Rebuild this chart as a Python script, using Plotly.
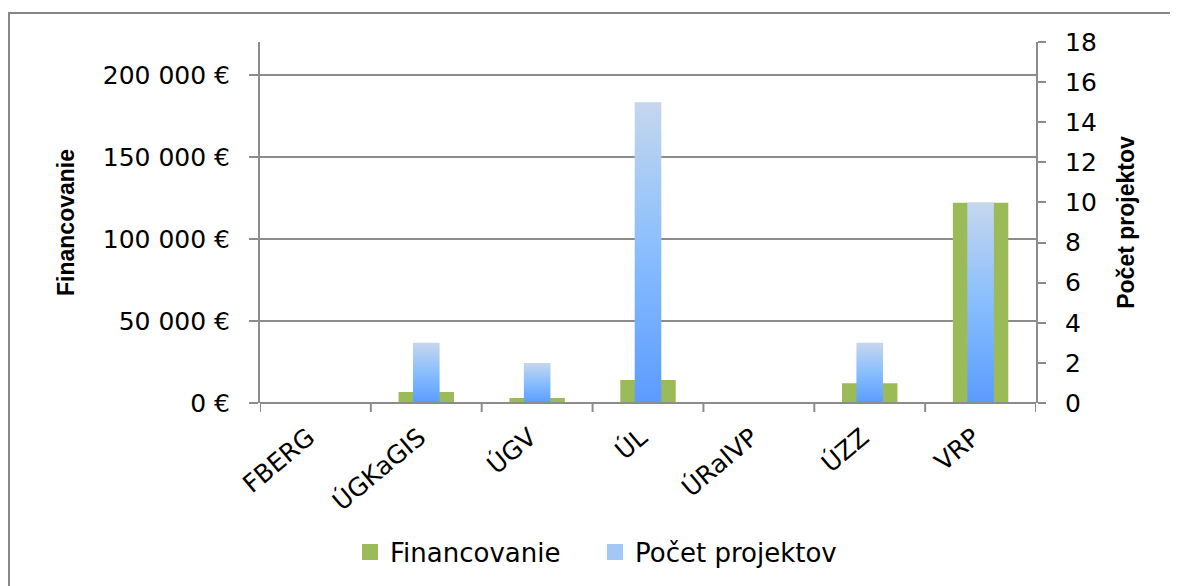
import plotly.graph_objects as go

categories = ["FBERG", "ÚGKaGIS", "ÚGV", "ÚL", "ÚRaIVP", "ÚZZ", "VRP"]
financovanie = [0, 6700, 3000, 14000, 0, 12000, 122000]
pocet_projektov = [0, 3, 2, 15, 0, 3, 10]

GREEN = "#9BBB59"
BLUE_DARK = "#5B9BFF"
BLUE_MID = "#88BEFD"
BLUE_LIGHT = "#C6D6EE"
GRID = "#8C8C8C"
FONT = "DejaVu Sans"
TITLE_FONT = "Liberation Sans"

idx = list(range(len(categories)))
green_w = 0.5
blue_w = 0.24

fig = go.Figure()

fig.add_trace(go.Bar(
    x=idx, y=financovanie, width=green_w, name="Financovanie",
    marker=dict(color=GREEN, line=dict(width=0)), yaxis="y", showlegend=False,
))

# Gradient-filled bars for "Počet projektov" (per-bar vertical gradient)
for i, v in zip(idx, pocet_projektov):
    if v <= 0:
        continue
    xs = [i - blue_w / 2, i + blue_w / 2, i + blue_w / 2, i - blue_w / 2, i - blue_w / 2]
    ys = [0, 0, v, v, 0]
    fig.add_trace(go.Scatter(
        x=xs, y=ys, yaxis="y2", mode="lines", fill="toself",
        line=dict(width=0, color=BLUE_DARK),
        fillgradient=dict(type="vertical",
                          colorscale=[[0, BLUE_DARK], [0.5, BLUE_MID], [1, BLUE_LIGHT]]),
        showlegend=False, hoverinfo="skip",
    ))

# Legend entries (square swatches)
fig.add_trace(go.Scatter(
    x=[None], y=[None], mode="markers", name="Financovanie",
    marker=dict(symbol="square", size=18, color=GREEN), yaxis="y",
))
fig.add_trace(go.Scatter(
    x=[None], y=[None], mode="markers", name="Počet projektov",
    marker=dict(symbol="square", size=18, color="#A3C8F5"), yaxis="y2",
))

fig.update_layout(
    width=1178, height=586,
    margin=dict(l=252, r=150, t=34, b=191),
    paper_bgcolor="white", plot_bgcolor="white",
    barmode="overlay",
    font=dict(family=FONT, size=24, color="black"),
    xaxis=dict(
        tickmode="array", tickvals=idx, ticktext=categories,
        range=[-0.5, len(categories) - 0.5],
        tickangle=-40, showgrid=False, zeroline=False,
        showline=False, ticks="", tickfont=dict(size=25),
        ticklabelstandoff=14, ticklabelshift=-7,
    ),
    yaxis=dict(
        range=[0, 220000], tickvals=[0, 50000, 100000, 150000, 200000],
        ticktext=["0 €", "50 000 €", "100 000 €", "150 000 €", "200 000 €"],
        showgrid=True, gridcolor=GRID, gridwidth=2,
        showline=True, linecolor=GRID, linewidth=2,
        ticks="outside", ticklen=9, tickcolor=GRID, tickwidth=2,
        ticklabelstandoff=14,
        zeroline=False, tickfont=dict(size=25),
        title=dict(text="<b>Financovanie</b>",
                   font=dict(family=TITLE_FONT, size=23), standoff=22),
    ),
    yaxis2=dict(
        overlaying="y", side="right", range=[0, 18], dtick=2,
        showgrid=False, showline=True, linecolor=GRID, linewidth=2,
        ticks="outside", ticklen=8, tickcolor=GRID, tickwidth=2,
        ticklabelstandoff=14,
        zeroline=False, tickfont=dict(size=25),
        title=dict(text="<b>Počet projektov</b>",
                   font=dict(family=TITLE_FONT, size=23), standoff=22),
    ),
    legend=dict(orientation="h", x=0.116, xanchor="left", y=-0.413, yanchor="middle",
                font=dict(size=26), itemwidth=30, entrywidth=200, traceorder="normal",
                itemsizing="trace"),
    showlegend=True,
)

# x-axis baseline and category separator ticks
fig.add_shape(type="line", xref="x", yref="paper", x0=-0.5, x1=len(categories) - 0.5,
              y0=0, y1=0, line=dict(color=GRID, width=2))
for b in range(len(categories) + 1):
    fig.add_shape(type="line", xref="x", yref="paper", x0=b - 0.5, x1=b - 0.5,
                  y0=0, y1=-0.025, line=dict(color=GRID, width=2))

# chart frame
fig.add_shape(type="rect", xref="paper", yref="paper",
              x0=-0.3235, x1=1.3, y0=-0.6, y1=1.08,
              line=dict(color="#868686", width=2), fillcolor="rgba(0,0,0,0)", layer="below")

fig.write_html("out.html")
